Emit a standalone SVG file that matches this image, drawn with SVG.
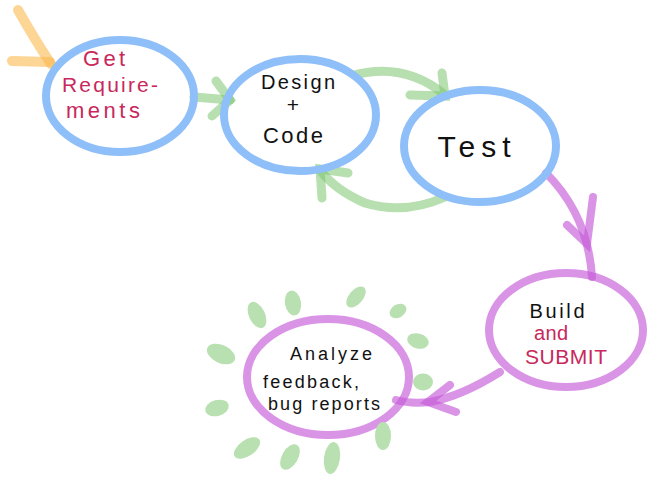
<svg xmlns="http://www.w3.org/2000/svg" width="649" height="477" viewBox="0 0 649 477">
<style>
.blue{fill:none;stroke:#8fbff8;stroke-width:8}
.purp{fill:none;stroke:#c45ad9;stroke-opacity:0.65;stroke-width:8;stroke-linecap:round}
.grn{fill:none;stroke:#7cc46e;stroke-opacity:0.55;stroke-width:9;stroke-linecap:round}
.org{fill:none;stroke:#fcb94f;stroke-opacity:0.6;stroke-width:10;stroke-linecap:round}
.blob{fill:#b9e0b1}
text{font-family:"Liberation Sans",Arial,sans-serif;text-anchor:middle}
.k{fill:#111}
.r{fill:#c8285c}
</style>
<g id="connectors">
  <path class="org" d="M12,61 L50,62"/>
  <path class="org" d="M18,10 Q35,40 51,64"/>
  <path class="grn" d="M194,97 L230,100" stroke-opacity="0.75"/>
  <path class="grn" d="M216,81 L230,100 L212,116"/>
  <path class="grn" d="M354,75 Q405,62 445,95"/>
  <path class="grn" d="M442,73 L445,96 L410,95"/>
  <path class="grn" d="M445,197 Q405,215 365,203 Q335,190 320,170"/>
  <path class="grn" d="M348,173 L320,169 L322,198"/>
  <path class="purp" d="M546,173 Q588,215 592,277"/>
  <path class="purp" d="M593,197 L587,244 L567,225"/>
  <path class="purp" d="M500,372 Q462,396 430,402 Q410,404 396,400"/>
  <path class="purp" d="M450,385 L428,402 L456,412"/>
</g>
<g id="node-get-requirements">
  <ellipse class="blue" cx="120" cy="96" rx="74" ry="56"/>
  <text class="r" x="104" y="66" font-size="22" textLength="42">Get</text>
  <text class="r" x="110" y="92" font-size="21" textLength="96">Require-</text>
  <text class="r" x="103" y="118" font-size="22" textLength="74">ments</text>
</g>
<g id="node-design-code">
  <ellipse class="blue" cx="300" cy="115" rx="76" ry="56"/>
  <text class="k" x="298" y="89" font-size="20" textLength="74">Design</text>
  <text class="k" x="293" y="112" font-size="21">+</text>
  <text class="k" x="293" y="143" font-size="22" textLength="60">Code</text>
</g>
<g id="node-test">
  <ellipse class="blue" cx="480" cy="146" rx="76" ry="56"/>
  <text class="k" x="474" y="157" font-size="30" textLength="73">Test</text>
</g>
<g id="node-build-submit">
  <ellipse class="purp" cx="566" cy="330" rx="77" ry="57"/>
  <text class="k" x="557" y="318" font-size="20" textLength="55">Build</text>
  <text class="r" x="551" y="340" font-size="20" textLength="34">and</text>
  <text class="r" x="566" y="364" font-size="21" textLength="82">SUBMIT</text>
</g>
<g id="node-analyze">
  <ellipse class="purp" cx="328" cy="377" rx="81" ry="58"/>
  <text class="k" x="331" y="360" font-size="18" textLength="82">Analyze</text>
  <text class="k" x="311" y="388" font-size="18" textLength="96">feedback,</text>
  <text class="k" x="324" y="410" font-size="18" textLength="112">bug reports</text>
  <g id="sparkles">
    <ellipse class="blob" cx="257" cy="315" rx="8" ry="14" transform="rotate(-25 257 315)"/>
    <ellipse class="blob" cx="293" cy="303" rx="8" ry="12.5" transform="rotate(-10 293 303)"/>
    <ellipse class="blob" cx="356" cy="297" rx="7" ry="12.5" transform="rotate(40 356 297)"/>
    <ellipse class="blob" cx="398" cy="311" rx="9" ry="6.5" transform="rotate(-30 398 311)"/>
    <ellipse class="blob" cx="418" cy="341" rx="11" ry="7.5" transform="rotate(15 418 341)"/>
    <ellipse class="blob" cx="423" cy="382" rx="10" ry="8.5"/>
    <ellipse class="blob" cx="383" cy="436" rx="8" ry="14"/>
    <ellipse class="blob" cx="332" cy="458" rx="8" ry="16" transform="rotate(8 332 458)"/>
    <ellipse class="blob" cx="290" cy="457" rx="8" ry="14" transform="rotate(30 290 457)"/>
    <ellipse class="blob" cx="247" cy="448" rx="8" ry="15" transform="rotate(55 247 448)"/>
    <ellipse class="blob" cx="217" cy="408" rx="12" ry="8" transform="rotate(-15 217 408)"/>
    <ellipse class="blob" cx="221" cy="354" rx="15" ry="9" transform="rotate(25 221 354)"/>
  </g>
</g>
</svg>
